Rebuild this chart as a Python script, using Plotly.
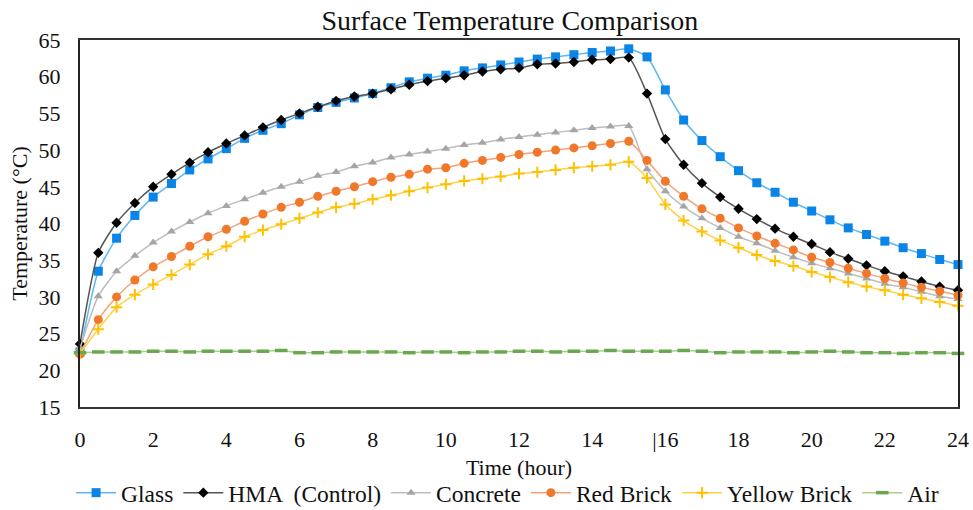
import plotly.graph_objects as go

time_h = [i * 0.5 for i in range(49)]

glass = [22.5, 33.5, 38.0, 41.1, 43.6, 45.45, 47.3, 48.8, 50.2, 51.6, 52.7, 53.6, 54.8, 55.8, 56.5,
         57.1, 57.7, 58.5, 59.3, 59.8, 60.2, 60.8, 61.2, 61.6, 62.0, 62.4, 62.7, 63.0, 63.3, 63.5,
         63.8, 62.7, 58.2, 54.1, 51.3, 49.1, 47.2, 45.55, 44.25, 42.9, 41.7, 40.5, 39.4, 38.5, 37.6,
         36.7, 35.9, 35.1, 34.4]
hma = [23.6, 36.0, 40.1, 42.8, 45.0, 46.7, 48.3, 49.7, 50.9, 52.0, 53.1, 54.1, 55.0, 55.9, 56.7,
       57.3, 57.7, 58.3, 58.9, 59.4, 59.8, 60.2, 60.7, 61.0, 61.2, 61.7, 61.8, 62.0, 62.3, 62.4,
       62.6, 57.7, 51.5, 48.0, 45.5, 43.6, 42.0, 40.6, 39.3, 38.2, 37.2, 36.1, 35.2, 34.3, 33.5,
       32.8, 32.1, 31.4, 30.9]
concrete = [23.0, 30.1, 33.5, 35.6, 37.4, 38.9, 40.2, 41.4, 42.4, 43.3, 44.2, 45.0, 45.7, 46.5, 47.0,
            47.8, 48.3, 49.0, 49.4, 49.8, 50.2, 50.7, 51.0, 51.45, 51.8, 52.1, 52.4, 52.7, 53.0, 53.2,
            53.3, 47.4, 44.4, 42.3, 40.7, 39.4, 38.2, 37.3, 36.3, 35.4, 34.6, 33.9, 33.2, 32.5, 31.8,
            31.3, 30.7, 30.1, 29.7]
red_brick = [22.2, 26.9, 30.0, 32.3, 34.1, 35.5, 36.9, 38.2, 39.2, 40.3, 41.3, 42.2, 42.9, 43.7, 44.4,
             45.0, 45.7, 46.3, 46.7, 47.4, 47.6, 48.2, 48.6, 49.0, 49.4, 49.7, 50.0, 50.3, 50.6, 50.9,
             51.2, 48.6, 45.75, 43.7, 42.0, 40.7, 39.4, 38.3, 37.3, 36.4, 35.4, 34.7, 33.9, 33.2, 32.5,
             31.9, 31.3, 30.8, 30.2]
yellow_brick = [22.3, 25.6, 28.6, 30.3, 31.7, 33.0, 34.4, 35.8, 36.9, 38.2, 39.1, 39.9, 40.7, 41.5, 42.2,
                42.7, 43.3, 43.85, 44.4, 44.9, 45.35, 45.8, 46.1, 46.4, 46.8, 47.0, 47.3, 47.6, 47.8, 48.0,
                48.4, 46.2, 42.6, 40.4, 38.9, 37.7, 36.7, 35.7, 34.9, 34.2, 33.4, 32.7, 32.0, 31.4, 30.9,
                30.3, 29.8, 29.3, 28.8]
air = [22.4, 22.5, 22.5, 22.5, 22.6, 22.6, 22.5, 22.6, 22.6, 22.6, 22.6, 22.7, 22.4, 22.4, 22.5,
       22.5, 22.5, 22.5, 22.4, 22.5, 22.5, 22.4, 22.5, 22.5, 22.6, 22.6, 22.5, 22.6, 22.6, 22.7,
       22.6, 22.6, 22.6, 22.7, 22.6, 22.4, 22.5, 22.5, 22.5, 22.4, 22.5, 22.6, 22.5, 22.4, 22.4,
       22.3, 22.4, 22.4, 22.3]

x_tickvals = [0, 2, 4, 6, 8, 10, 12, 14, 16, 18, 20, 22, 24]
x_ticktext = ["0", "2", "4", "6", "8", "10", "12", "14", "|16", "18", "20", "22", "24"]

series = [
    ("Glass", glass, "#0A84E6", "#5CB8F2", "square", 9),
    ("HMA  (Control)", hma, "#000000", "#555555", "diamond", 8),
    ("Concrete", concrete, "#A5A5A5", "#BDBDBD", "triangle-up", 8),
    ("Red Brick", red_brick, "#F07828", "#F4A27A", "circle", 9),
    ("Yellow Brick", yellow_brick, "#FFC000", "#FFD24D", "cross-thin", 8),
]

fig = go.Figure()
for name, vals, mcol, lcol, sym, size in series:
    marker = dict(symbol=sym, size=size, color=mcol)
    if sym == "cross-thin":
        marker["line"] = dict(width=2, color=mcol)
    fig.add_trace(go.Scatter(
        x=time_h, y=vals, name=name, mode="lines+markers",
        line=dict(color=lcol, width=1.5, shape="spline", smoothing=0.6),
        marker=marker, cliponaxis=False,
    ))

fig.add_trace(go.Scatter(
    x=time_h, y=air, name="Air", mode="lines+markers",
    line=dict(color="#A9CF8E", width=1.5, shape="spline", smoothing=0.6),
    marker=dict(symbol="line-ew", size=9, color="#6AA84F", line=dict(width=3.5, color="#6AA84F")),
    cliponaxis=False,
))

font_family = "Liberation Serif"
fig.update_layout(
    width=973, height=510,
    margin=dict(l=80, r=15, t=40, b=103, autoexpand=False),
    paper_bgcolor="white", plot_bgcolor="white",
    font=dict(family=font_family, size=22, color="#111111"),
    title=dict(text="Surface Temperature Comparison", x=0.524, xanchor="center",
               y=0.961, yanchor="middle", font=dict(size=28, family=font_family, color="#111111")),
    xaxis=dict(range=[0, 24], tickvals=x_tickvals, ticktext=x_ticktext, showgrid=False,
               zeroline=False, showline=True, linecolor="#333333", linewidth=2, mirror=True,
               ticks="outside", ticklen=12, tickcolor="rgba(0,0,0,0)", automargin=False,
               tickfont=dict(size=22, family=font_family, color="#111111"),
               title=dict(text="Time (hour)", standoff=8,
                          font=dict(size=22, family=font_family, color="#111111"))),
    yaxis=dict(range=[15, 65], dtick=5, tick0=15, showgrid=False, zeroline=False,
               showline=True, linecolor="#222222", linewidth=2, mirror=True,
               ticks="outside", ticklen=13, tickcolor="rgba(0,0,0,0)", automargin=False,
               tickfont=dict(size=22, family=font_family, color="#111111"),
               title=dict(text="Temperature (°C)", standoff=5,
                          font=dict(size=22, family=font_family, color="#111111"))),
    legend=dict(orientation="h", x=0.487, xanchor="center", y=-0.234, yanchor="middle",
                font=dict(size=23.5, family=font_family, color="#111111"), itemwidth=40,
                tracegroupgap=0, bgcolor="rgba(0,0,0,0)"),
    showlegend=True,
)

fig.write_html("out.html", config={"displayModeBar": False},
               post_script="document.body.style.margin='0';")
